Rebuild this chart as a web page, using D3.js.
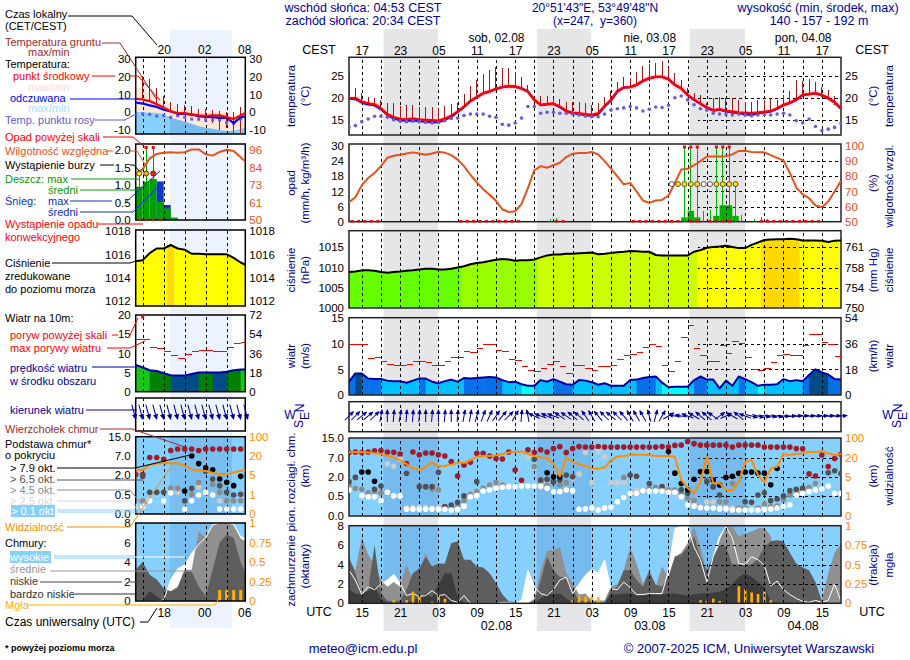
<!DOCTYPE html>
<html>
<head>
<meta charset="utf-8">
<title>meteogram</title>
<script src="https://cdn.jsdelivr.net/npm/d3@7"></script>
<style>
html, body { margin: 0; padding: 0; background: #fff; }
svg { display: block; }
text { font-family: "Liberation Sans", Arial, sans-serif; font-size: 12px; }
</style>
</head>
<body>
<svg id="chart" width="910" height="660"></svg>
<script>
// hourly series, index 0 = 01.08 13 UTC
var tempMid = [20,20,19.2,18.8,18.6,17.7,16.4,15.7,15.3,15.2,
    15.4,15.2,15.1,15,14.9,15.4,16,17,18.1,19.4,
    20.2,21.1,21.5,22.1,22.5,22.7,22.6,22.2,21.5,19.6,
    18.5,18.7,18.8,18.1,17.1,16.7,16.6,16.4,16.2,16.6,
    18.2,19.6,21.6,22.4,22.5,23,23.9,24.5,24.8,24.8,
    24.3,23,22.2,20.7,19.7,18.8,17.9,17.3,17.5,17.1,
    17,16.8,16.7,16.6,16.8,16.9,17.1,17.7,18.5,19,
    19.7,20.7,20.9,21.1,20.7,20,19.1,17.7];
var tempSpread = [.4,.5,.6,.6,.6,.7,.7,.6,.5,.5,
    .5,.5,.4,.4,.4,.4,.5,.5,.6,.6,
    .6,.6,.7,.7,.8,.8,.7,.7,.8,.9,
    .9,.9,.8,.8,.8,.8,.7,.6,.6,.6,
    .6,.6,.7,.7,.7,.7,.7,.7,.7,.7,
    .8,1,1,1,.9,.8,.7,.6,.5,.5,
    .5,.4,.4,.4,.4,.5,.5,.5,.6,.7,
    .8,.8,.8,.8,.7,.7,.7,.7];
var feels = [19.9,19.8,19,18.6,18.4,17.5,16.2,15.4,15,14.9,
    15,14.8,14.7,14.6,14.6,15.1,15.8,16.9,18,19.3,
    20.2,21.1,21.5,22.1,22.5,22.7,22.6,22.2,21.5,19.6,
    18.4,18.6,18.7,18,17,16.6,16.4,16.2,16,16.4,
    18.1,19.5,21.5,22.4,22.5,23,23.9,24.5,24.8,24.8,
    24.3,23,22.2,20.7,19.6,18.7,17.8,17.2,17.4,17,
    16.8,16.6,16.4,16.2,16.6,16.8,17,17.6,18.4,18.9,
    19.6,20.7,20.9,21.1,20.7,20,19,17.6];
var groundMax = [26,22.4,21.1,20.3,20.1,19.6,19,18.8,18.2,18.4,
    18.4,18.1,18.1,17.9,17.7,18.2,18.7,19,21,22.7,
    24.2,25.5,26.4,27,26.9,26.7,25.9,24.7,23,20.3,
    20.4,20.4,20.1,19.8,19.1,19.1,19.1,18.8,18.4,18.8,
    20.3,21.7,23.7,24.7,24.5,26,27.3,27.6,27.9,28.4,
    26.7,25.6,24.2,22.4,21.2,20.7,18.8,20,20.3,20.1,
    20,19.6,19.2,19.2,19.6,19.6,20,19.6,20.7,21.7,
    24.1,23.9,24.4,23.6,22.6,21.8,20.5,18];
var groundMin = [20,19.8,19,18.6,18.4,17.5,16.2,15.3,14.7,14.6,
    14.8,14.6,14.5,14.4,14.2,15,15.8,16.8,18,19.3,
    20.1,21,21.4,22,22.4,22.6,22.5,22.1,21.4,19.5,
    18.4,18.6,18.7,18,17,16.5,16.3,16,15.8,16.2,
    18,19.5,21.4,22.3,22.4,22.9,23.8,24.4,24.7,24.7,
    24.2,22.9,22,20.6,19.6,18.7,17.8,16.9,17,16.5,
    16.4,16.3,16.1,16,16.3,16.5,16.9,17.6,18.4,18.9,
    19.6,20.6,20.8,21,20.3,19.5,18.5,17.5];
var dewPoint = [13.4,13.8,14.7,15.3,15.9,15.9,15.7,15.1,14.8,14.7,
    14.8,14.7,14.5,14.4,14.5,14.9,15.4,15.5,16.1,16.4,
    16.4,16.4,15.9,15.7,14.1,13.9,14.4,15.5,18.1,18.1,
    16.6,16.8,16.8,16.6,16.6,16.4,16.2,15.9,15.8,15.8,
    16.4,17.3,17.6,17.8,18.1,17.8,17.1,17.5,18,17.9,
    18.4,20.1,20.5,19.6,18.5,17.6,17.3,16.6,16.4,16.3,
    16.2,16.4,16.2,16,16.2,16.3,16.2,16.4,16.6,16.2,
    14.9,14.4,15.3,13.6,12.7,13,13.4,14.3];
var humidity = [62.9,66.2,74,78.9,82.2,86.7,92.2,93.6,94.2,95,
    95.8,95,94.2,95,96.2,95.6,94,91,86.7,81,
    76,71.5,67.8,63.8,58.2,56.4,56.9,61.8,72.2,84,
    86.7,85.6,87.3,88.9,92.7,94.9,95.3,95.3,96,94.4,
    90,85.1,80,74.7,75.6,70,64,62.4,64,64.4,
    67.3,75.6,84.4,84.9,87.3,90,93.1,93.1,93.1,93.3,
    94.4,96.7,96.9,96,95.8,95.8,94,92.2,90.4,82.2,
    72.7,68,65.6,60.7,59.6,63.3,70,77.1];
var pressure = [1008.9,1009,1009.3,1009.3,1009.2,1008.9,1008.7,1008.9,1009,1009.2,
    1009.3,1009.5,1009.7,1009.7,1009.5,1009.5,1009.7,1010,1010.3,1010.8,
    1011.1,1011.3,1011.6,1011.9,1012.1,1012,1011.7,1011.8,1011.8,1012,
    1012.5,1013,1013.2,1013.2,1013.4,1013.4,1013.5,1013.6,1013.7,1013.3,
    1013.4,1013.6,1013.8,1013.9,1014.1,1014,1013.9,1013.9,1013.1,1013,
    1013,1013,1013,1013,1013.9,1014.3,1014.9,1015.1,1015.2,1015.4,
    1015.1,1014.8,1014.8,1015.6,1016.2,1016.8,1016.9,1017,1017,1017.1,
    1017,1016.7,1016.7,1016.7,1016.6,1016.3,1016.6,1016.7];
var windSpeed = [2.6,4.2,4.2,3.2,3.1,3.1,2.8,2.7,2.7,2.4,
    2.8,3.2,3.2,2.6,2.3,2.7,3,2.6,3.3,3.2,
    3.3,3.4,3.5,3.4,2.9,2.5,2.6,2.1,1.8,1.8,
    2.9,2.6,3.1,2.6,2.1,2,2.9,2.8,2.5,2,
    2.3,1.8,1.8,1.8,2.9,3,3.3,3.5,3.6,2.4,
    1.5,1.6,1.6,1.6,2.9,3.6,3,3,1.3,2.8,
    1.8,3.6,3.1,2.5,1.8,2,2,2.1,3.1,2.7,
    2.9,2.7,3.9,5,4.4,4,3.1,3];
var windClass = [2,3,2,2,2,1,1,1,1,1,
    1,2,1,1,1,1,1,1,2,2,
    2,2,2,2,1,1,1,0,0,1,
    1,1,2,2,2,1,1,1,1,1,
    1,1,1,1,1,2,2,2,1,0,
    0,0,0,1,2,2,1,1,1,1,
    1,2,1,1,0,1,1,1,1,1,
    1,2,3,3,3,2,2,2];
var gust = [9.9,9.8,9.8,7.2,7.4,6.6,6,5.8,5.8,6,
    6.6,6.6,6.4,5.8,5.8,6.6,7.4,7.4,8.5,8.3,
    9.1,9.8,9.9,8.7,8.4,7,6.8,5.6,4.8,4.6,
    5.2,6,6.6,5.6,4.2,5.8,5.8,5.1,4.8,5.5,
    5.6,5.8,7,7.7,7.9,8.3,9.3,9.9,9.5,5.8,
    4.5,6.6,11.2,13.5,9.1,7.7,6.6,6.6,9.7,8.1,
    10.4,10.1,7.3,5,4.8,5.2,6.4,7.7,7.9,7.7,
    7.7,9.7,11.7,11.7,10.3,9.9,7.5];
var windFrom = [225,225,230,230,225,190,180,185,190,185,
    185,185,180,185,180,185,180,185,190,190,
    195,200,205,215,220,225,210,185,170,115,
    110,115,110,125,125,130,130,145,150,140,
    135,130,135,140,150,150,150,165,195,210,
    240,100,100,110,120,130,130,125,235,245,
    120,130,110,285,285,280,280,280,275,270,
    265,265,265,265,265,265,265,265];
var visibility = [42,43,43,41,38,35,28,21,18,15,
    11.7,10.4,13,16.4,13.3,13.5,14.6,16,16,18,
    24,27,27,30,35,41,43,45,35,27,
    21,19.7,15,5.3,20,17,14.8,13.5,11.7,11.5,
    12.3,18,25,27,31,32,32,31,27,27,
    27,24,4.4,2.7,1.6,4,24,3.7,3.7,2.3,
    2.3,4,16.6,18,6.6,3.9,11.7,13,35,31,
    35,38,43,43,46,38,30,35];
var cloudHigh = [3.4,2.4,.9,1.7,1.4,2,2.4,3,2.1,.8,
    1,.7,.8,1.3,.8,.9,.3,.1,.8,0,
    0,0,0,0,.1,.1,0,.3,3.4,1.7,
    1,.8,1.4,2.4,2.7,1,2,2.9,3.5,3.1,
    4.5,1.5,1.4,2.2,1.6,.9,.9,1,1,1,
    3.4,7.7,8,8,5.8,4.5,2.2,4.8,6.9,7.9,
    6.7,4.1,4,4.8,4.5,3.9,1.8,2.3,1.4,.9,
    .5,.2,.1,.3,.1,.3,2,.2];
var cloudMid = [4.5,3.4,6.8,5,4,2.4,1.7,2.2,1.7,4,
    2.4,3.1,5.2,3.4,1.7,1,.7,.3,.2,0,
    0,0,0,0,0,0,0,0,0,.5,
    3.4,5.4,5.5,5.8,3.1,2.1,.9,1,.3,.3,
    .3,1.7,2,3.4,5.8,4.1,2,3.4,1.7,3.8,
    2.7,4.8,5.2,6.2,7.9,5.8,3.1,4.1,6.5,8,
    7.9,6.9,7.2,7.4,7.7,7.8,6.9,4.1,2.4,.5,
    0,0,0,0,.3,3.1,5.2,6.2];
var cloudLow = [4.8,3.1,1,1.4,6,1,.3,.2,.3,1.4,
    3.1,3.6,4.8,3.8,4.1,4.1,6.2,6.4,4.5,4.5,
    3.8,3.7,3.1,2.1,.9,.2,.1,0,0,.2,
    2.4,4.8,3.4,2.7,2.7,1.4,.3,.2,.3,0,
    0,1.4,1.7,3.4,3.4,2.4,1.7,3.3,1.9,1.7,
    2.7,4.8,5,5.8,6.9,4.8,3.4,4.8,6,5.8,
    4,4,4,4,4.6,5.8,6.4,6.5,6.4,5.2,
    4.1,3.7,3.4,2.2,.3,0,0,0];
var cloudVeryLow = [1.4,1,.9,1.3,1.7,.5,0,0,0,.1,
    .3,.5,1,.6,2,3.1,3.1,.7,0,0,
    0,0,0,0,0,0,0,0,0,.1,
    .5,1,.9,1,.5,0,0,0,0,0,
    0,.9,.9,1,1,.8,.9,1,.9,.9,
    1,1,.9,.8,.9,1,1,1.1,1.2,1.5,
    2,2.7,3.1,2.7,2.2,1.7,.2,0,0,0,
    0,0,0,0,0,0,0,0];
var fog = [0,0,0,0,0,0,0,.04,0,.04,
    .15,.09,0,.02,.1,.06,0,0,0,0,
    0,0,0,0,0,0,0,0,0,0,
    0,0,0,0,0,.04,.09,.09,.1,.08,
    0,0,0,0,0,0,0,0,0,0,
    0,0,0,0,0,.04,.03,.06,.03,0,
    0,.22,.18,.14,.12,.15,.04,0,0,0,
    0,0,0,0,0,0,0,0];

// precipitation, [hour slot, value], over 30 runs off the scale
var rainMean = [[52,1.7],[53,4.3],[54,1.7],[57,2.3],[58,6.5],[59,6.5],[60,2.3]];
var rainMax = [[31,.9],[32,1.3],[52,40],[53,40],[54,40],[55,4.3],[56,4.7],[57,40],[58,40],[59,40],[60,15],[61,2.7],[63,.9],[64,1.7],[65,1]];
var convective = [0,1,2,3,4,17,18,19,20,21,22,23,24,25,26,32,33,44,45,46,47,48,49,50,51,53,54,56,57,58,59,64,65,66,67,68,69,70,71,72,73];
var stormYes = [51,52,53,54,57,58,59,60];
var stormMaybe = [50,55,56];

// cloud base and top, [hour, km]
var baseTop = [[0,9.1],[1,9.3],[2,9.1],[3,9.3],[4,9.8],[5,9.9],[6,9.3],[7,9.2],[8,8.5],[9,5.5],[10,9.3],[11,8.2],[12,8.9],[13,8.9],[14,8.2],[15,7.7],[16,6],[17,2.25],[18,5.1],[19,5.8],[20,8.8],[21,8.8],[22,7.7],[23,6.8],[24,6.65],[25,9.3],[26,3.8],[27,1.75],[28,10.2],[29,9.1],[30,10.2],[31,9.3],[32,10.7],[33,11.5],[34,9.1],[35,10.7],[36,11.5],[37,11.3],[38,11.3],[39,11.5],[40,11.3],[41,11.3],[42,11.3],[43,11.3],[44,11.3],[45,11.3],[46,11.3],[47,11.3],[48,11.3],[49,11.5],[50,11.3],[51,12],[52,12.1],[53,13.6],[54,12.7],[55,12.1],[56,12.1],[57,12.1],[58,12.1],[59,12.1],[60,11.3],[61,12.1],[62,12.1],[63,12.1],[64,12.1],[65,11.3],[66,11.3],[67,11.3],[68,11.3],[69,11.3],[70,10.7],[71,10.6],[72,2.8],[73,2.25],[74,8.1],[75,4.7],[76,6.8],[77,8.4]];
var baseBlack = [[2,3.3],[3,3.3],[4,1.67],[31,3.1],[32,2.05],[33,2.05],[50,9.5],[51,3],[52,1.5],[53,1],[54,1.82],[55,3.4],[56,3.4],[57,1.77],[58,1.38],[59,1.97],[60,2.2],[61,2.95],[62,3.3],[63,3.3],[64,3],[65,3],[66,1.4],[67,4.2]];
var baseDark = [[0,1.64],[1,1.97],[4,1.04],[5,1.3],[9,2.95],[11,1.25],[12,1.25],[13,1.25],[14,3.2],[15,.24],[16,.28],[17,.35],[18,.53],[20,1.64],[29,6.6],[30,1.77],[31,1.82],[32,1.64],[33,1.77],[34,2.5],[35,2.05],[44,2.5],[45,2.2],[47,1.5],[49,1.25],[52,1],[53,.73],[56,1.64],[57,1.25],[58,.6],[62,.36],[63,.35],[64,.6],[65,.78],[66,.39],[67,.43],[68,.53],[69,.94],[70,1.04],[71,1.12],[75,3.1],[76,3.6],[77,2.9]];
var baseGrey = [[0,1.38],[1,1.12],[2,1.04],[3,.78],[4,.86],[5,.78],[12,1.2],[13,1.04],[14,1],[15,.24],[16,.2],[17,.25],[18,.39],[19,.66],[20,.88],[21,1.14],[22,1.38],[23,1.56],[24,1.38],[29,4.7],[30,1.64],[31,1.38],[32,1.64],[33,1.38],[34,1.56],[43,1.97],[44,.73],[45,.73],[46,.86],[47,1.12],[48,1.2],[49,1],[50,1],[51,1],[52,.73],[53,.45],[54,.39],[56,1.77],[57,1.2],[58,.36],[59,.36],[60,1.5],[61,.2],[62,.2],[64,.2],[65,.3],[66,.24],[67,.25],[68,.42],[69,.6],[70,.78],[71,.94],[72,1.2],[73,1.5]];
var baseLight = [[6,5.4],[7,4.85],[8,6.6],[9,.21],[10,.22],[11,.22],[12,.22],[13,.2],[14,.2],[17,.15],[18,.24],[19,.6],[20,.86],[21,1.04],[22,1.25],[23,1.5],[24,1.38],[28,7.4],[29,4.5],[30,1.25],[31,1.5],[35,1.9],[36,2.8],[37,9.1],[38,1.56],[39,9.5],[40,7.4],[41,1.56],[42,1.56],[43,1.64],[44,.73],[45,.94],[46,1],[47,1.38],[52,.53],[53,.45],[54,.36],[55,.22],[56,.36],[57,.36],[58,.22],[59,.2],[60,.2],[61,.2],[62,.15]];
var baseWhite = [[0,.99],[2,.55],[3,.49],[4,.49],[5,.39],[6,.81],[7,.53],[8,.53],[9,.17],[10,.17],[11,.17],[12,.17],[13,.17],[14,.17],[15,.17],[16,.15],[17,.17],[18,.25],[19,.49],[20,.55],[21,.91],[22,.99],[23,1.12],[24,1.2],[25,1.25],[26,1.25],[27,1.3],[28,1.3],[29,1.3],[30,1.3],[31,1.12],[32,.86],[33,.86],[34,.99],[35,.94],[36,.17],[37,.18],[38,.2],[39,.15],[40,.2],[41,.22],[42,.36],[43,.47],[44,.73],[45,.73],[46,.91],[47,.91],[48,.91],[49,.91],[50,.81],[51,.81],[52,.49],[53,.28],[54,.25],[55,.21],[56,.2],[57,.2],[58,.18],[59,.18],[60,.15],[61,.15],[62,.15],[63,.15],[64,.15],[65,.17],[66,.18],[67,.2],[68,.24],[69,.28],[70,.6],[71,.73],[72,.86],[73,.99],[74,1.07],[75,1.3],[76,.73],[77,.73]];

// legend column, same fields over 17 hours from 14 UTC
var sideMid = [7.5,7.1,6.2,4.4,2.5,.4,-.6,-.6,-1.3,-1.9,-2.1,-1.9,-1.9,-2.9,-4,-1.9,0];
var sideFeels = [5.4,4.8,3.8,2.9,1.3,.4,-1,-1,-1.5,-2.3,-2.7,-2.9,-3.3,-3.3,-6.3,-2.9,-2.3];
var sideWarm = [14,13,11,9.5,7,5,1,1.5,1,.5,.3,0,0,0,-2,0,1];
var sideCold = [0,0,-.4,-.4,-1.3,-3.2,-4.2,-5.5,-6.6,-8,-8.9,-9.4,-10.2,-10.8,-10.8,-9.4,-8.3];
var sideGroundMax = [26,20.4,18.9,13.8,9.1,5.7,4.7,3.9,3.4,1.9,1.5,.9,.6,0,0,2.8,3];
var sideGroundMin = [7.5,7.1,6.2,4.4,2.5,.4,-.6,-1.3,-2.3,-5,-5.5,-6,-10,-9,-12.6,-12.6,-5];
var sideDew = [-1.5,-1,-1.3,-2.3,-2,-3,-2.1,-3,-4,-4,-4.5,-4.5,-4.5,-6,-6.5,-4,-4];
var sideHumidity = [79.6,83.5,90.5,93.4,94.2,94.5,94.2,94.5,96.4,96.4,93.2,92.3,94.7,96.2,95.3,91.2,87];
var sideRain = [.95,1.1,1.17,.52,.33,.07];
var sideSnow = [0,0,0,1.1,.43,0];
var sideRainMax = [1.35,3,3];
var sidePressure = [1015.4,1015.5,1016.1,1016.5,1016.5,1016.8,1016.5,1016.4,1016.05,1016.05,1016,1016,1016,1016,1015.7,1015.3,1015];
var sideWind = [7,6.3,5.6,5.4,4.8,4.3,4.2,4.2,4.6,5,5,5,5,5.2,5.6,5.8,5.8];
var sideWindClass = [5,5,4,4,4,3,3,3,3,4,4,3,3,4,4,5,5];
var sideWindFrom = [345,345,345,345,345,345,345,345,345,345,345,345,345,345,345,345,345];
var sideGust = [13.5,13.5,11.6,11.3,10.4,9.5,8.7,9.7,10.5,10.8,10.8,10.4,10.4,11.6,12.6,12.9];
var sideVisibility = [8.9,8.9,12.8,14,14.3,14.3,14.3,12.3,9.4,8.6,8.1,6.8,5.5,5.5,7,8.4,8.9];
var sideHigh = [0,0,0,0,.1,2.2,3.3,3.7,4.9,5.8,6.5,7.8,8,8,7.9,6.6,6.3];
var sideCloudMid = [0,0,0,0,0,1,1.5,3.2,3.2,7.1,6.5,7.8,8,8,7.8,6.4,6];
var sideLow = [3.2,4,2.7,2.2,1.3,1,1.3,3.2,3,1.5,.5,3.2,6,6.8,6.5,4,2.3];
var sideVeryLow = [0,.1,1,.5,0,0,0,0,0,0,0,0,0,0,0,0,0];
var sideFog = [0,0,0,0,0,0,0,0,0,0,0,0,.14,.14,.14,.14,0];
var sideTop = [[0,2.1],[1,2.1],[2,6.6],[3,6.6],[4,6.1],[5,9.3],[6,9.9],[7,9.9],[8,9.9],[9,9.3],[10,9.9],[11,9.9],[12,9.9],[13,9.9],[14,9.9],[15,9.9],[16,9.9]];
var sideBlack = [[7,.8],[8,7],[9,5],[10,3.9],[11,3.4],[12,1.7],[13,1.45],[14,1.2],[15,1.9]];
var sideDark = [[1,1.9],[2,.7],[3,.7],[4,.7],[7,.35],[8,1],[10,3],[11,1.7],[12,1.2],[13,.7],[14,.5],[15,.55]];
var sideGrey = [[1,.35],[5,1],[6,1],[8,.55],[9,1.45],[11,1.3],[12,.7],[13,.35],[14,.35],[15,.35]];
var sideLight = [[0,.2],[5,.9],[6,.7],[9,1.1],[12,.35],[15,.55]];
var sideWhite = [[1,.2],[2,.35],[4,.35],[5,.65],[7,.13],[8,.35],[9,.5],[10,.7],[11,.5],[12,.13],[13,.13],[14,.13],[15,.13]];

// tick labels
var cestLabels = ["17","23","05","11","17","23","05","11","17","23","05","11","17"];
var utcLabels = ["15","21","03","09","15","21","03","09","15","21","03","09","15"];
var dateTop = ["sob, 02.08","nie, 03.08","pon, 04.08"];
var dateBottom = ["02.08","03.08","04.08"];

var NAVY = "#00009c", SKY = "#85d0ff", RED = "#ff0000", ORANGE = "#ff8c00", HUM = "#e8501c";
var windColors = ["#00ffff","#00c0ff","#0a70e8","#004c88","#008000","#18c818"];
var pressColor = d3.scaleThreshold().domain([1010.2,1012.3,1014.2,1016.75]).range(["#66ff00","#99ff00","#ccff00","#ffff00","#ffd800"]);

var svg = d3.select("#chart");
var clipCount = 0;

// time scales are hour index to pixels
var xMain = d3.scaleLinear().domain([0,77]).range([349,841]);
var xSide = d3.scaleLinear().domain([0,15.66]).range([135.7,245.3]);
var mainGrid = d3.range(2,77,3), sideGrid = [1,4,7,10,13];
var nights = [[5.4,13.9],[29.4,37.9],[53.3,62]];

// day and night stripes behind everything
nights.forEach(function (n) {
    svg.append("rect").attr("x",xMain(n[0])).attr("y",29).attr("width",xMain(n[1])-xMain(n[0])).attr("height",602).attr("fill","#e6e6e8");
});
svg.append("rect").attr("x",170).attr("y",30).attr("width",62).attr("height",598).attr("fill","#edf3fe");

function makePanel(x, gridX, top, bottom, y, yTicks, yRight, rightTicks, fmtL, fmtR, rightColor, sky) {
    var me = {};
    var left = x.range()[0], right = x.range()[1];
    var id = "clip" + (clipCount++);
    svg.append("clipPath").attr("id",id).append("rect").attr("x",left).attr("y",top).attr("width",right-left).attr("height",bottom-top);
    me.g = svg.append("g").attr("clip-path","url(#" + id + ")");
    me.x = x; me.y = y; me.top = top; me.bottom = bottom; me.left = left; me.right = right;
    if (sky) {
        me.g.append("rect").attr("x",left).attr("y",top).attr("width",right-left).attr("height",bottom-top).attr("fill",SKY);
        if (x === xMain) {
            nights.forEach(function (n) {
                me.g.append("rect").attr("x",x(n[0])).attr("y",top).attr("width",x(n[1])-x(n[0])).attr("height",bottom-top).attr("fill","#0a2a70").attr("fill-opacity",.12);
            });
        } else {
            me.g.append("rect").attr("x",170).attr("y",top).attr("width",62).attr("height",bottom-top).attr("fill","#0a2a70").attr("fill-opacity",.1);
        }
    }
    // grid and frame, then me.g is a fresh layer for what goes above the grid
    me.finish = function () {
        if (y) {
            var gy = svg.append("g").attr("transform","translate(" + left + ",0)").attr("clip-path","url(#" + id + ")")
                .call(d3.axisLeft(y).tickValues(yTicks.filter(function (t) { return y(t) > top + 3 && y(t) < bottom - 3; })).tickSize(-(right-left)).tickFormat(""));
            styleGrid(gy);
        }
        var gx = svg.append("g").attr("transform","translate(0," + bottom + ")")
            .call(d3.axisBottom(x).tickValues(gridX).tickSize(-(bottom-top)).tickSizeOuter(0).tickFormat(""));
        styleGrid(gx);
        svg.append("rect").attr("x",left).attr("y",top).attr("width",right-left).attr("height",bottom-top)
            .attr("fill","none").attr("stroke",x === xMain ? "#222" : "#000").attr("stroke-width",1.5);
        if (y) {
            var l = svg.append("g").attr("transform","translate(" + (left - 4) + ",0)")
                .call(d3.axisLeft(y).tickValues(yTicks).tickSize(0).tickPadding(1).tickFormat(fmtL));
            l.select(".domain").remove();
            l.selectAll("text").style("font-size","11.5px").attr("fill","#000");
            var r = svg.append("g").attr("transform","translate(" + (right + 2) + ",0)")
                .call(d3.axisRight(yRight).tickValues(rightTicks).tickSize(0).tickPadding(2).tickFormat(fmtR));
            r.select(".domain").remove();
            r.selectAll("text").style("font-size","11.5px").attr("fill",rightColor);
        }
        me.g = svg.append("g").attr("clip-path","url(#" + id + ")");
    };
    return me;
}

function styleGrid(g) {
    g.select(".domain").remove();
    g.selectAll("line").attr("stroke","#000").attr("stroke-width",1).attr("stroke-dasharray","3,3").attr("shape-rendering","crispEdges");
}

function drawLine(p, values, color, width, yScale) {
    var y = yScale || p.y;
    var line = d3.line().x(function (d, i) { return p.x(i); }).y(function (d) { return y(d); });
    p.g.append("path").attr("d",line(values)).attr("fill","none").attr("stroke",color).attr("stroke-width",width).attr("stroke-linejoin","round");
}

function drawBand(p, low, high, color) {
    var area = d3.area().x(function (d, i) { return p.x(i); }).y0(function (d, i) { return p.y(low[i]); }).y1(function (d, i) { return p.y(high[i]); });
    p.g.append("path").attr("d",area(low)).attr("fill",color);
}

function drawFloor(p, values, color) {
    var area = d3.area().x(function (d, i) { return p.x(i); }).y0(p.bottom).y1(function (d) { return p.y(d); });
    return p.g.append("path").attr("d",area(values)).attr("fill",color);
}

// filled profile whose colour changes from hour to hour
function drawColoured(p, values, colorOf, offset) {
    var id = "clip" + (clipCount++);
    var area = d3.area().x(function (d, i) { return p.x(i); }).y0(p.bottom).y1(function (d) { return p.y(d); });
    svg.append("clipPath").attr("id",id).append("path").attr("d",area(values));
    var g = p.g.append("g").attr("clip-path","url(#" + id + ")");
    values.forEach(function (d, i) {
        g.append("rect").attr("x",p.x(i + offset)).attr("y",p.top).attr("width",p.x(1)-p.x(0)+.6).attr("height",p.bottom-p.top).attr("fill",colorOf(i));
    });
}

function drawDots(p, pairs, color, r) {
    p.g.selectAll(null).data(pairs).enter().append("circle")
        .attr("cx",function (d) { return p.x(d[0]); })
        .attr("cy",function (d) { return p.y(d[1]); })
        .attr("r",r).attr("fill",color);
}

// thin hard-edged line, for the ground bars and the gust ticks
function hardLine(g, x1, x2, y1, y2, color) {
    g.append("line").attr("x1",x1).attr("x2",x2).attr("y1",y1).attr("y2",y2)
        .attr("stroke",color).attr("stroke-width",1).attr("shape-rendering","crispEdges");
}

function drawArrows(x, cy, dirs, len, back, head) {
    var g = svg.append("g");
    dirs.forEach(function (from, i) {
        var a = g.append("g").attr("transform","translate(" + x(i) + "," + cy + ") rotate(" + (from + 180) + ")");
        a.append("line").attr("x1",0).attr("x2",0).attr("y1",back).attr("y2",back - len).attr("stroke",NAVY).attr("stroke-width",1);
        var t = back - len;
        a.append("path").attr("d","M0," + (t-1) + "L" + head + "," + (t + head*1.8) + "L-" + head + "," + (t + head*1.8) + "Z").attr("fill",NAVY);
    });
}

function identity(d) { return d; }
function fixed1(d) { return d.toFixed(1); }

// ---- main column ----

var pTemp = makePanel(xMain, mainGrid, 57.3, 135, d3.scaleLinear().domain([15,25]).range([120.3,76]), [15,20,25],
    d3.scaleLinear().domain([15,25]).range([120.3,76]), [15,20,25], identity, identity, "#000");
drawBand(pTemp, feels.map(function (d, i) { return d - tempSpread[i]; }), feels, "#cfe8ff");
drawBand(pTemp, tempMid.map(function (d, i) { return d - tempSpread[i]; }), tempMid.map(function (d, i) { return d + tempSpread[i]; }), "#fbdde4");
pTemp.finish();
drawLine(pTemp, feels, "#0000ff", 2.2);
groundMax.forEach(function (d, i) {
    hardLine(pTemp.g, xMain(i), xMain(i), pTemp.y(d), pTemp.y(groundMin[i]), "#a01818");
});
drawLine(pTemp, tempMid, RED, 2.4);
dewPoint.forEach(function (d, i) {
    pTemp.g.append("circle").attr("cx",xMain(i)).attr("cy",pTemp.y(d)).attr("r",1.8).attr("fill","#6a5ae0");
});

var yRain = d3.scaleLinear().domain([0,30]).range([221.7,146]).clamp(true);
var yHum = d3.scaleLinear().domain([50,100]).range([221.7,146]);
var pRain = makePanel(xMain, mainGrid, 144, 221.7, yRain, [0,6,12,18,24,30], yHum, [50,60,70,80,90,100], identity, identity, HUM);
rainMean.forEach(function (d) {
    pRain.g.append("rect").attr("x",xMain(d[0])).attr("y",yRain(d[1])).attr("width",xMain(1)-xMain(0)).attr("height",221.7-yRain(d[1])).attr("fill","#00b000");
});
pRain.finish();
rainMax.forEach(function (d) {
    hardLine(pRain.g, xMain(d[0]+.5), xMain(d[0]+.5), yRain(d[1]), 221.7, "#00b000");
});
drawLine(pRain, humidity, HUM, 2, yHum);
var gRainTop = svg.append("g");
rainMax.filter(function (d) { return d[1] > 30; }).forEach(function (d) {
    gRainTop.append("rect").attr("x",xMain(d[0]+.5)-1.5).attr("y",145.5).attr("width",3).attr("height",3).attr("fill",RED);
});
convective.forEach(function (c) {
    gRainTop.append("rect").attr("x",xMain(c+.5)-1.5).attr("y",220).attr("width",3).attr("height",2.5).attr("fill",RED);
});
stormMaybe.concat(stormYes).forEach(function (c) {
    gRainTop.append("circle").attr("cx",xMain(c+.5)).attr("cy",yRain(14.9)).attr("r",2.5)
        .attr("fill",stormYes.indexOf(c) >= 0 ? "#ffe000" : "#fff").attr("stroke","#333").attr("stroke-width",.8);
});

var yPress = d3.scaleLinear().domain([1000,1015]).range([308,247.3]);
var pPress = makePanel(xMain, mainGrid, 230.7, 308, yPress, [1000,1005,1010,1015],
    d3.scaleOrdinal().domain([750,754,758,761]).range([308,288,268,247.3]), [750,754,758,761], identity, identity, "#000");
drawColoured(pPress, pressure, function (i) { return pressColor(pressure[i]); }, -.5);
pPress.finish();
drawLine(pPress, pressure, "#000", 2);

var yWind = d3.scaleLinear().domain([0,15]).range([395,318]);
var pWind = makePanel(xMain, mainGrid, 317.7, 395, yWind, [0,5,10,15], d3.scaleLinear().domain([0,54]).range([395,318]), [0,18,36,54], identity, identity, "#000");
drawColoured(pWind, windSpeed, function (i) { return windColors[windClass[i]]; }, 0);
pWind.finish();
drawLine(pWind, windSpeed, "#0000a0", 2);
gust.forEach(function (d, i) {
    hardLine(pWind.g, xMain(i), xMain(i+1), yWind(d), yWind(d), RED);
});

var pDir = makePanel(xMain, mainGrid, 401.7, 431.7);
pDir.finish();
drawArrows(xMain, 416, windFrom, 12, 6, 2.2);

var yBase = d3.scaleLinear().domain([0,.5,2,7,15]).range([516,496.3,477,457.7,438]);
var yVis = d3.scaleLinear().domain([0,1,5,20,100]).range([516,496.3,477,457.7,438]);
var pBase = makePanel(xMain, mainGrid, 438, 516, yBase, [0,.5,2,7,15], yVis, [0,1,5,20,100], fixed1, identity, ORANGE, true);
pBase.finish();
drawDots(pBase, baseTop, "#a01c28", 2.8);
drawDots(pBase, baseLight, "#cccccc", 2.8);
drawDots(pBase, baseGrey, "#8c8c8c", 2.8);
drawDots(pBase, baseDark, "#505050", 2.8);
drawDots(pBase, baseBlack, "#000", 2.8);
drawDots(pBase, baseWhite, "#fff", 2.8);
drawLine(pBase, visibility, ORANGE, 2, yVis);

var yCloud = d3.scaleLinear().domain([0,8]).range([603.3,525.7]);
var yFrac = d3.scaleLinear().domain([0,1]).range([603.3,525.7]);
var pCloud = makePanel(xMain, mainGrid, 525.7, 603.3, yCloud, [0,2,4,6,8], yFrac, [0,.25,.5,.75,1], identity, identity, ORANGE, true);
drawFloor(pCloud, cloudHigh, "#fff");
drawFloor(pCloud, cloudMid, "#909090");
drawFloor(pCloud, cloudLow, "#5e5e5e");
drawFloor(pCloud, cloudVeryLow, "#3c3c3c");
drawLine(pCloud, cloudHigh, "#fff", 1);
fog.forEach(function (d, i) {
    if (d > 0) pCloud.g.append("rect").attr("x",xMain(i)-1.2).attr("y",yFrac(d)).attr("width",2.6).attr("height",603.3-yFrac(d)).attr("fill","#ffb000");
});
pCloud.finish();

// ---- legend column ----

var ySideTemp = d3.scaleLinear().domain([-10,30]).range([129.7,59]);
var sTemp = makePanel(xSide, sideGrid, 57.3, 134, ySideTemp, [-10,0,10,20,30], ySideTemp, [-10,0,10,20,30], identity, identity, "#000");
drawFloor(sTemp, sideWarm, "#fde7d8");
drawFloor(sTemp, sideCold, SKY);
svg.append("clipPath").attr("id","sideNight").append("rect").attr("x",170).attr("y",57).attr("width",62).attr("height",77);
drawFloor(sTemp, sideCold, "#0a2a70").attr("fill-opacity",.12).attr("clip-path","url(#sideNight)");
sTemp.finish();
sideGroundMax.forEach(function (d, i) {
    hardLine(sTemp.g, xSide(i), xSide(i), ySideTemp(d), ySideTemp(sideGroundMin[i]), "#a01818");
});
sideDew.forEach(function (d, i) {
    sTemp.g.append("rect").attr("x",xSide(i)-1.5).attr("y",ySideTemp(d)-1.5).attr("width",3).attr("height",3).attr("fill","#6a5ae0");
});
drawLine(sTemp, sideFeels, "#0000ff", 2.2);
drawLine(sTemp, sideMid, RED, 2.2);

var ySideRain = d3.scaleLinear().domain([0,2]).range([220,150]).clamp(true);
var ySideHum = d3.scaleLinear().domain([50,96]).range([220,150]);
var sRain = makePanel(xSide, sideGrid, 144, 220, ySideRain, [0,.5,1,1.5,2], ySideHum, [50,61,73,84,96], fixed1, identity, HUM);
sideRain.forEach(function (d, i) {
    sRain.g.append("rect").attr("x",xSide(i)).attr("y",ySideRain(sideSnow[i])).attr("width",7).attr("height",220-ySideRain(sideSnow[i])).attr("fill","#1038c8");
    sRain.g.append("rect").attr("x",xSide(i)).attr("y",ySideRain(d)).attr("width",7).attr("height",220-ySideRain(d)).attr("fill","#00a000");
});
sRain.finish();
sideRainMax.forEach(function (d, i) {
    hardLine(sRain.g, xSide(i+.5), xSide(i+.5), d > 2 ? 147 : ySideRain(d), 220, "#00a000");
});
drawLine(sRain, sideHumidity, HUM, 2, ySideHum);
var gSideTop = svg.append("g");
sideRainMax.forEach(function (d, i) {
    if (d > 2) gSideTop.append("rect").attr("x",xSide(i+.5)-1.5).attr("y",146).attr("width",3).attr("height",3).attr("fill",RED);
    gSideTop.append("circle").attr("cx",xSide(i+.5)).attr("cy",173.5).attr("r",2.5).attr("fill",["#ffe000","#ffa800","#ff2000"][i]).attr("stroke","#222").attr("stroke-width",.8);
});
[0,1,2,3].forEach(function (c) {
    gSideTop.append("rect").attr("x",xSide(c+.5)-1.5).attr("y",218.8).attr("width",3).attr("height",2).attr("fill",RED);
});

var ySidePress = d3.scaleLinear().domain([1012,1018]).range([301,231]);
var sPress = makePanel(xSide, sideGrid, 230, 306, ySidePress, [1012,1014,1016,1018], ySidePress, [1012,1014,1016,1018], identity, identity, "#000");
drawColoured(sPress, sidePressure, function (i) { return pressColor(sidePressure[i]); }, -.5);
sPress.finish();
drawLine(sPress, sidePressure, "#000", 2);

var ySideWind = d3.scaleLinear().domain([0,20]).range([391.7,315]);
var sWind = makePanel(xSide, sideGrid, 315, 391.7, ySideWind, [0,5,10,15,20], d3.scaleLinear().domain([0,72]).range([391.7,315]), [0,18,36,54,72], identity, identity, "#000");
drawColoured(sWind, sideWind, function (i) { return windColors[sideWindClass[i]]; }, 0);
sWind.finish();
drawLine(sWind, sideWind, "#0000a0", 2);
sideGust.forEach(function (d, i) {
    hardLine(sWind.g, xSide(i), xSide(i+1), ySideWind(d), ySideWind(d), RED);
});
sWind.g.append("rect").attr("x",xSide(1)-1.5).attr("y",315.5).attr("width",3).attr("height",3).attr("fill",RED);

var sDir = makePanel(xSide, sideGrid, 398, 431);
sDir.finish();
drawArrows(xSide, 419, sideWindFrom, 15, 15, 2.6);

var ySideBase = d3.scaleLinear().domain([0,.5,2,7,15]).range([514,495,475,456,436.7]);
var ySideVis = d3.scaleLinear().domain([0,1,5,20,100]).range([514,495,475,456,436.7]);
var sBase = makePanel(xSide, sideGrid, 436.7, 514, ySideBase, [0,.5,2,7,15], ySideVis, [0,1,5,20,100], fixed1, identity, ORANGE, true);
sBase.finish();
drawDots(sBase, sideTop, "#a01c28", 2.8);
drawDots(sBase, sideLight, "#cccccc", 2.8);
drawDots(sBase, sideGrey, "#8c8c8c", 2.8);
drawDots(sBase, sideDark, "#505050", 2.8);
drawDots(sBase, sideBlack, "#000", 2.8);
drawDots(sBase, sideWhite, "#fff", 2.8);
drawLine(sBase, sideVisibility, ORANGE, 2, ySideVis);

var ySideCloud = d3.scaleLinear().domain([0,8]).range([601,523]);
var ySideFrac = d3.scaleLinear().domain([0,1]).range([601,523]);
var sCloud = makePanel(xSide, sideGrid, 523, 601, ySideCloud, [0,2,4,6,8], ySideFrac, [0,.25,.5,.75,1], identity, identity, ORANGE, true);
drawFloor(sCloud, sideHigh, "#fff");
drawFloor(sCloud, sideCloudMid, "#909090");
drawFloor(sCloud, sideLow, "#5e5e5e");
drawFloor(sCloud, sideVeryLow, "#3c3c3c");
drawLine(sCloud, sideHigh, "#fff", 1);
sideFog.forEach(function (d, i) {
    if (d > 0) sCloud.g.append("rect").attr("x",xSide(i)-1.5).attr("y",ySideFrac(d)).attr("width",3).attr("height",601-ySideFrac(d)).attr("fill","#ffb000");
});
sCloud.finish();

// ---- time labels ----

function timeAxis(scale, at, values, labels, size) {
    var g = svg.append("g").attr("transform","translate(0," + at + ")")
        .call(d3.axisTop(scale).tickValues(values).tickSize(0).tickPadding(0).tickFormat(function (d) { return labels[values.indexOf(d)]; }));
    g.select(".domain").remove();
    g.selectAll("text").style("font-size",size).attr("fill","#000");
}
var labelIdx = cestLabels.map(function (d, i) { return 2 + 6*i; });
timeAxis(xMain, 55, labelIdx, cestLabels, "12px");
timeAxis(xMain, 617, labelIdx, utcLabels, "12px");
timeAxis(xSide, 54, [4,9.8,15.5], ["20","02","08"], "12px");
timeAxis(xSide, 617, [4,9.8,15.5], ["18","00","06"], "12px");
timeAxis(xMain, 42, [23,47,71], dateTop, "12px");
timeAxis(xMain, 630, [23,47,71], dateBottom, "12.5px");

// ---- texts and leader lines ----

function label(text, x, y, color, anchor, size) {
    return svg.append("text").attr("x",x).attr("y",y).attr("dy",".35em").attr("fill",color)
        .attr("text-anchor",anchor || "start").style("font-size",(size || 11) + "px").text(text);
}
function rotated(text, x, y, color) {
    svg.append("text").attr("transform","translate(" + x + "," + y + ") rotate(-90)").attr("dy",".35em")
        .attr("fill",color || NAVY).attr("text-anchor","middle").style("font-size","11.5px").text(text);
}
function leader(points, color, width) {
    svg.append("path").attr("d",d3.line()(points)).attr("fill","none").attr("stroke",color).attr("stroke-width",width || 1);
}

label("wschód słońca: 04:53 CEST",363,8,NAVY,"middle",12.5);
label("zachód słońca: 20:34 CEST",363,21,NAVY,"middle",12.5);
label("20°51'43\"E, 53°49'48\"N",595,8,NAVY,"middle",12);
label("(x=247,\u00a0 y=360)",595,21,NAVY,"middle",12);
label("wysokość (min, środek, max)",818,8,NAVY,"middle",12.5);
label("140 - 157 - 192 m",819,21,NAVY,"middle",12.5);
label("CEST",319,50,"#000","middle",12.5);
label("CEST",872,50,"#000","middle",12.5);
label("UTC",319,612,"#000","middle",12.5);
label("UTC",872,612,"#000","middle",12.5);
label("meteo@icm.edu.pl",363,648,NAVY,"middle",13);
label("© 2007-2025 ICM, Uniwersytet Warszawski",749,648,NAVY,"middle",13);

rotated("temperatura",291,96); rotated("(°C)",305,96);
rotated("opad",291,183); rotated("(mm/h, kg/m³/h)",305,183);
rotated("ciśnienie",291,270); rotated("(hPa)",305,270);
rotated("wiatr",291,356); rotated("(m/s)",305,356);
rotated("pion. rozciągł. chm.",291,482); rotated("(km)",305,476);
rotated("zachmurzenie",291,571); rotated("(oktanty)",305,566);
rotated("(°C)",873,96); rotated("temperatura",889,96);
rotated("(%)",873,183); rotated("wilgotność wzgl.",889,186);
rotated("(mm Hg)",873,270); rotated("ciśnienie",889,270);
rotated("(km/h)",873,356); rotated("wiatr",889,356);
rotated("(km)",873,476); rotated("widzialność",889,476);
rotated("(frakcja)",873,565); rotated("mgła",889,565);

[290,888].forEach(function (x) {
    label("W",x,415,NAVY,"middle",12);
    svg.append("text").attr("transform","translate(" + (x+10) + ",408) rotate(-90)").attr("dy",".35em").attr("text-anchor","middle").attr("fill",NAVY).style("font-size","12px").text("N");
    svg.append("text").attr("transform","translate(" + (x+15) + ",416) rotate(-90)").attr("dy",".35em").attr("text-anchor","middle").attr("fill",NAVY).style("font-size","12px").text("E");
    svg.append("text").attr("transform","translate(" + (x+9) + ",424) rotate(-90)").attr("dy",".35em").attr("text-anchor","middle").attr("fill",NAVY).style("font-size","12px").text("S");
});

var BROWN = "#a52a2a", SLATE = "#6a5acd", GREEN = "#00a000", BLUE = "#1030c0";

label("Czas lokalny",5,14,"#000"); label("(CET/CEST)",5,26,"#000");
leader([[68,16],[132,16],[157,45]],"#000");
label("Temperatura gruntu",5,42,BROWN); label("max/min",28,52,BROWN);
leader([[102,43],[120,43],[157,100]],BROWN);
label("Temperatura:",5,64,"#000");
label("punkt środkowy",13,76,RED);
leader([[92,76],[115,76]],RED); leader([[130,76],[138,76],[160,100]],RED);
label("max/min",28,87,"#ffd8d0");
label("odczuwana",10,98,"#0000ff");
leader([[70,99],[137,99]],"#0000ff");
label("max/min",28,108,"#a8dcff");
label("Temp. punktu rosy",5,120,SLATE);
leader([[95,120],[125,120],[136,114]],SLATE);
label("Opad powyżej skali",5,137,RED);
leader([[103,137],[133,137],[146,148]],RED);
label("Wilgotność względna",5,151,HUM);
leader([[106,151],[113,151]],HUM); leader([[130,151],[137,151],[146,166]],HUM);
label("Wystąpienie burzy",5,165,"#000");
leader([[100,165],[114,165]],"#000"); leader([[130,165],[134,165],[139,171]],"#000");
label("Deszcz: max",5,179,GREEN);
leader([[71,179],[140,179]],GREEN);
label("średni",48,190,GREEN);
leader([[80,190],[142,190]],GREEN);
label("Śnieg:",5,201,BLUE); label("max",48,201,BLUE);
leader([[70,201],[112,201]],BLUE); leader([[125,203],[160,171]],BLUE);
label("średni",48,212,BLUE);
leader([[80,212],[133,212],[160,185]],BLUE);
label("Wystąpienie opadu",5,224,RED); label("konwekcyjnego",5,237,RED);
leader([[97,224],[143,224]],RED);
label("Ciśnienie",5,263,"#000"); label("zredukowane",5,276,"#000"); label("do poziomu morza",5,289,"#000");
leader([[52,263],[130,263],[136,261]],"#000");
label("Wiatr na 10m:",5,318,"#000");
label("poryw powyżej skali",10,335,RED);
leader([[112,335],[118,335]],RED); leader([[130,335],[138,318]],RED);
label("max porywy wiatru",10,348,RED);
leader([[107,348],[130,348],[145,341]],RED);
label("prędkość wiatru",10,368,NAVY); label("w środku obszaru",10,381,NAVY);
leader([[92,367],[137,367]],NAVY);
label("kierunek wiatru",10,410,NAVY);
leader([[86,410],[137,410]],NAVY);
label("Wierzchołek chmur",5,429,BROWN);
leader([[100,429],[132,429],[185,447]],BROWN);
label("Podstawa chmur*",5,444,"#000"); label("o pokryciu",5,455,"#000");
label("> 7.9 okt.",10,468,"#000");
leader([[57,468],[135,468],[190,455]],"#000");
label("> 6.5 okt.",10,479,"#505050");
leader([[57,480],[143,480]],"#505050");
label("> 4.5 okt.",10,490,"#8c8c8c");
leader([[57,490],[130,490],[143,506]],"#8c8c8c");
label("> 2.5 okt.",10,501,"#d8d8d8");
leader([[57,501],[130,501],[138,510]],"#d8d8d8");
svg.append("rect").attr("x",11).attr("y",505).attr("width",44).attr("height",12).attr("fill",SKY);
label("> 0.1 okt.",11,511,"#fff");
leader([[57,510],[137,510]],SKY); leader([[57,512],[137,512]],SKY);
label("Widzialność",5,527,ORANGE);
leader([[67,527],[130,527],[172,465]],ORANGE);
label("Chmury:",5,543,"#000");
svg.append("rect").attr("x",10).attr("y",551).attr("width",41).attr("height",12).attr("fill",SKY);
label("wysokie",10,557,"#fff");
leader([[54,556],[135,556]],SKY); leader([[54,558],[135,558]],SKY);
svg.append("line").attr("x1",135).attr("x2",186).attr("y1",557).attr("y2",557).attr("stroke","#fff");
label("średnie",10,569,"#999");
leader([[50,571],[192,571]],"#999");
label("niskie",10,581,"#404040");
leader([[40,582],[122,582]],"#404040");
leader([[130,582],[139,582]],"#404040");
label("bardzo niskie",10,594,"#303030");
leader([[75,594],[135,594]],"#303030");
label("Mgła",5,605,"#ffb000");
leader([[27,605],[215,605],[219,598]],"#ffb000");
label("Czas uniwersalny (UTC)",5,622,"#000",null,12);
leader([[140,622],[148,622],[157,608]],"#000");
label("* powyżej poziomu morza",5,648,"#000",null,9).style("font-weight","bold");
</script>
</body>
</html>
